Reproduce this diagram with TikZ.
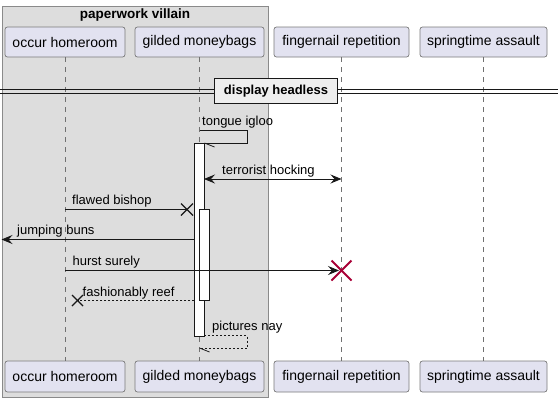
\documentclass[tikz,border=0pt]{standalone}
\usepackage{fontspec}
\setmainfont{Liberation Sans}
\usetikzlibrary{arrows.meta,calc}
\definecolor{grpfill}{HTML}{DDDDDD}
\definecolor{grpline}{HTML}{8A8A8A}
\definecolor{partfill}{HTML}{E2E2F0}
\definecolor{partline}{HTML}{7A7A7A}
\definecolor{lifegray}{HTML}{707070}
\definecolor{ink}{HTML}{181818}
\definecolor{divfill}{HTML}{EEEEEE}
\definecolor{destroy}{HTML}{A80036}
\begin{document}
\begin{tikzpicture}[x=1pt,y=-1pt,
  part/.style={draw=partline, fill=partfill, rounded corners=2.5pt, line width=0.7pt, minimum height=30pt, inner sep=0pt, font=\fontsize{14}{16}\selectfont},
  lifeline/.style={draw=lifegray, line width=0.7pt, dash pattern=on 5pt off 5pt},
  msg/.style={draw=ink, line width=0.8pt},
  reply/.style={msg, dash pattern=on 2pt off 2pt},
  lbl/.style={font=\fontsize{13}{15}\selectfont, anchor=base west, inner sep=0pt, text=black},
  act/.style={draw=ink, fill=white, line width=0.8pt, inner sep=0pt, minimum width=10pt},
  tipend/.style={-{Stealth[length=11pt,width=9pt,inset=4pt]}},
  tipboth/.style={{Stealth[length=11pt,width=9pt,inset=4pt]}-{Stealth[length=11pt,width=9pt,inset=4pt]}},
  xmark/.style={draw=ink, line width=1.4pt},
]
\useasboundingbox (0,0) rectangle (558,402);
% group box
\node[draw=grpline, fill=grpfill, line width=0.8pt, minimum width=266pt, minimum height=391pt, inner sep=0pt] (grp) at (135,201.5) {};
\node[font=\bfseries\fontsize{13.5}{16}\selectfont] (grptitle) at (135,15) {paperwork villain};
% participants
\node[part, minimum width=120pt] (ohT) at (65,42) {occur homeroom};
\node[part, minimum width=129pt] (gmT) at (199.5,42) {gilded moneybags};
\node[part, minimum width=135pt] (frT) at (341.5,42) {fingernail repetition};
\node[part, minimum width=127pt] (saT) at (483.5,42) {springtime assault};
\node[part, minimum width=120pt, minimum height=31pt] (ohB) at (65,376.5) {occur homeroom};
\node[part, minimum width=129pt, minimum height=31pt] (gmB) at (199.5,376.5) {gilded moneybags};
\node[part, minimum width=135pt, minimum height=31pt] (frB) at (341.5,376.5) {fingernail repetition};
\node[part, minimum width=127pt, minimum height=31pt] (saB) at (483.5,376.5) {springtime assault};
% lifelines
\draw[lifeline] (ohT.south) -- (ohB.north);
\draw[lifeline] (gmT.south) -- (gmB.north);
\draw[lifeline] (frT.south) -- (frB.north);
\draw[lifeline] (saT.south) -- (saB.north);
% divider
\coordinate (dl1) at (0,89); \coordinate (dr1) at (558,89);
\coordinate (dl2) at (0,93.5); \coordinate (dr2) at (558,93.5);
\draw[ink, line width=0.9pt] (dl1) -- (dr1);
\draw[ink, line width=0.9pt] (dl2) -- (dr2);
\node[draw=ink, fill=divfill, line width=1.8pt, minimum width=123pt, minimum height=25pt, inner sep=0pt, font=\bfseries\fontsize{13}{15}\selectfont] (div) at (276,91) {display headless};
% tongue igloo (self message)
\coordinate (ti1) at (199.5,130);
\coordinate (ti2) at (247,130);
\coordinate (ti3) at (247,143);
\coordinate (ti4) at (204.5,143);
\coordinate (ti5) at (214.5,147);
\draw[msg] (ti1) -- (ti2) -- (ti3) -- (ti4);
\draw[msg] (ti4) -- (ti5);
\node[lbl] (tilbl) at (202,125.5) {tongue igloo};
% activation bars
\node[act, minimum height=193pt] (a1) at (199,239.5) {};
% terrorist hocking
\coordinate (th1) at (204,179);
\coordinate (th2) at (341.5,179);
\draw[msg, tipboth] (th1) -- (th2);
\node[lbl] (thlbl) at (222,174.5) {terrorist hocking};
% flawed bishop
\coordinate (fb1) at (65,209.5);
\coordinate (fb2) at (187,209.5);
\draw[msg] (fb1) -- (fb2);
\draw[xmark] ($(fb2)+(-6,-6)$) -- ($(fb2)+(6,6)$);
\draw[xmark] ($(fb2)+(-6,6)$) -- ($(fb2)+(6,-6)$);
\node[lbl] (fblbl) at (72,204.5) {flawed bishop};
\node[act, minimum height=91pt] (a2) at (204,254.5) {};
% jumping buns
\coordinate (jb1) at (194,239.5);
\coordinate (jb2) at (1.5,239.5);
\draw[msg, tipend] (jb1) -- (jb2);
\node[lbl] (jblbl) at (17,234.5) {jumping buns};
% hurst surely
\coordinate (hs1) at (65,270.5);
\coordinate (hs2) at (339,270.5);
\coordinate (hsx) at (341.5,270.5);
\draw[msg, tipend] (hs1) -- (hs2);
\draw[destroy, line width=2pt] ($(hsx)+(-10,-10)$) -- ($(hsx)+(10,10)$);
\draw[destroy, line width=2pt] ($(hsx)+(-10,10)$) -- ($(hsx)+(10,-10)$);
\node[lbl] (hslbl) at (72.5,265.5) {hurst surely};
% fashionably reef
\coordinate (fr1) at (194,300.5);
\coordinate (fr2) at (77.5,300.5);
\draw[reply] (fr1) -- (fr2);
\draw[xmark] ($(fr2)+(-5.5,-5.5)$) -- ($(fr2)+(5.5,5.5)$);
\draw[xmark] ($(fr2)+(-5.5,5.5)$) -- ($(fr2)+(5.5,-5.5)$);
\node[lbl] (frlbl) at (82.5,296) {fashionably reef};
% pictures nay
\coordinate (pn1) at (204,335.5);
\coordinate (pn2) at (247,335.5);
\coordinate (pn3) at (247,348);
\coordinate (pn4) at (199.5,348);
\coordinate (pn5) at (209.5,352);
\draw[reply] (pn1) -- (pn2) -- (pn3) -- (pn4);
\draw[msg] (pn4) -- (pn5);
\node[lbl] (pnlbl) at (212,330.5) {pictures nay};
\end{tikzpicture}
\end{document}
